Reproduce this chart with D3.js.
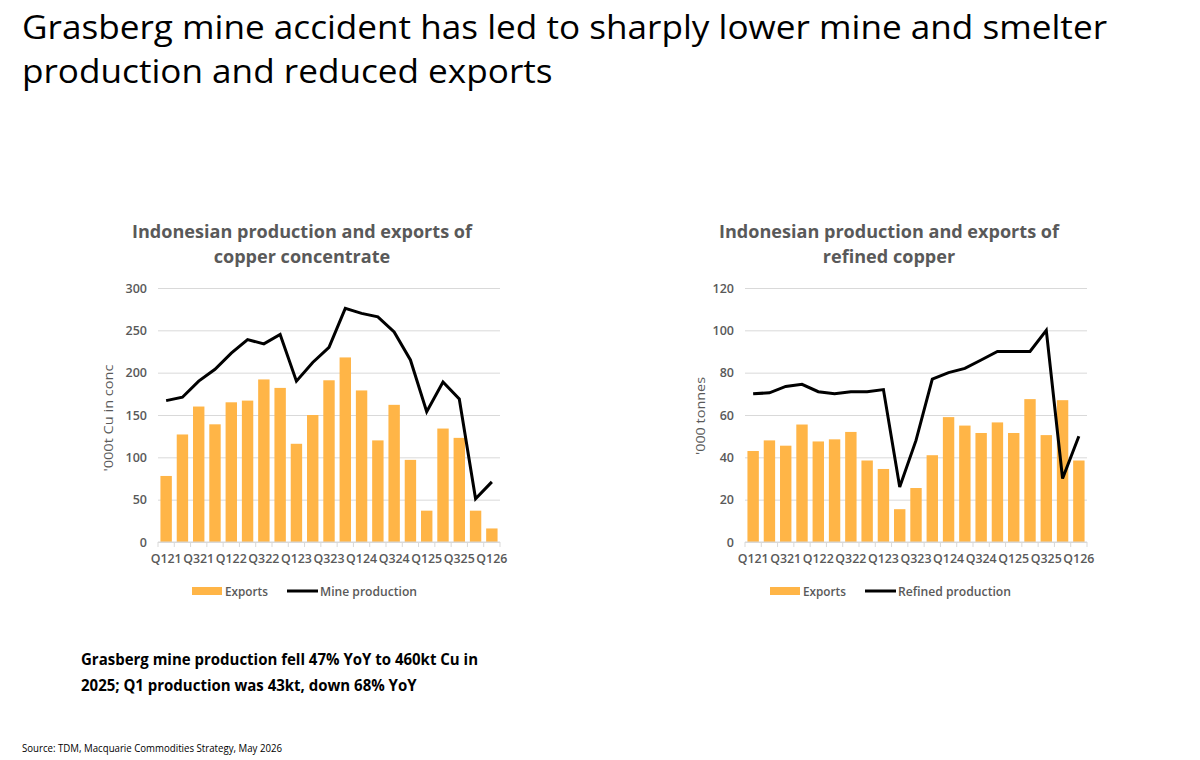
<!DOCTYPE html>
<html>
<head>
<meta charset="utf-8">
<script src="https://cdn.jsdelivr.net/npm/d3@7"></script>
<style>
  body { margin: 0; background: #fff; }
  svg { display: block; font-family: "Open Sans", "Noto Sans", sans-serif; }
</style>
</head>
<body>
<svg id="chart" width="1200" height="760"></svg>
<script>
// quarters, 2021 Q1 to 2026 Q1
var quarters = ["Q121", "Q221", "Q321", "Q421", "Q122", "Q222", "Q322", "Q422",
  "Q123", "Q223", "Q323", "Q423", "Q124", "Q224", "Q324", "Q424",
  "Q125", "Q225", "Q325", "Q425", "Q126"];

// copper concentrate, '000t Cu in conc
var concExports = [78, 127, 160, 139, 165, 167, 192, 182, 116, 150, 191, 218,
  179, 120, 162, 97, 37, 134, 123, 37, 16];
var mineProduction = [167, 171, 190, 204, 223, 239, 234, 245, 190, 212, 230, 276,
  270, 266, 248, 215, 154, 189, 169, 51, 71];

// refined copper, '000 tonnes
var refinedExports = [43, 48, 45.5, 55.5, 47.5, 48.5, 52, 38.5, 34.5, 15.5, 25.5, 41,
  59, 55, 51.5, 56.5, 51.5, 67.5, 50.5, 67, 38.5];
var refinedProduction = [70, 70.5, 73.5, 74.5, 71, 70, 71, 71, 72, 26, 48, 77,
  80, 82, 86, 90, 90, 90, 100, 30, 50];

var concTicks = [0, 50, 100, 150, 200, 250, 300];
var refinedTicks = [0, 20, 40, 60, 80, 100, 120];

var barColor = "#FFB547";
var gray = "#595959";
var svg = d3.select("#chart");

// squeeze a text to a target width (Calibri is narrower than what we have)
function fit(text, width) {
  var w = text.node().getComputedTextLength();
  text.attr("textLength", width).attr("lengthAdjust", "spacingAndGlyphs");
  return width / w;
}
function squeeze(text, ratio) {
  var w = text.node().getComputedTextLength();
  text.attr("textLength", w * ratio).attr("lengthAdjust", "spacingAndGlyphs");
}

// page title
var t1 = svg.append("text").attr("x", 22).attr("y", 39)
  .attr("font-size", 33).attr("fill", "#000")
  .text("Grasberg mine accident has led to sharply lower mine and smelter");
var r = fit(t1, 1085);
var t2 = svg.append("text").attr("x", 22).attr("y", 83)
  .attr("font-size", 33).attr("fill", "#000")
  .text("production and reduced exports");
squeeze(t2, r);

var f1 = svg.append("text").attr("x", 81).attr("y", 665)
  .attr("font-size", 16).attr("font-weight", 700).attr("fill", "#000")
  .text("Grasberg mine production fell 47% YoY to 460kt Cu in");
r = fit(f1, 397);
var f2 = svg.append("text").attr("x", 81).attr("y", 691)
  .attr("font-size", 16).attr("font-weight", 700).attr("fill", "#000")
  .text("2025; Q1 production was 43kt, down 68% YoY");
squeeze(f2, r);

var src = svg.append("text").attr("x", 22).attr("y", 752)
  .attr("font-size", 10).attr("fill", "#000")
  .text("Source: TDM, Macquarie Commodities Strategy, May 2026");
fit(src, 260);

function drawChart(cfg) {
  var g = svg.append("g");

  var x = d3.scaleBand()
    .domain(quarters)
    .range([cfg.left, cfg.right])
    .paddingInner(0.3)
    .paddingOuter(0.15);

  var y = d3.scaleLinear()
    .domain([0, cfg.ticks[cfg.ticks.length - 1]])
    .range([cfg.bottom, cfg.top]);

  // titles
  var tt = g.append("text").attr("x", cfg.titleX).attr("y", cfg.top - 50)
    .attr("text-anchor", "middle").attr("font-size", 17.5).attr("font-weight", 700)
    .attr("fill", gray).text(cfg.title[0]);
  var tr = fit(tt, 340);
  var tt2 = g.append("text").attr("x", cfg.titleX).attr("y", cfg.top - 25)
    .attr("text-anchor", "middle").attr("font-size", 17.5)
    .attr("font-weight", 700).attr("fill", gray).text(cfg.title[1]);
  squeeze(tt2, tr);

  // gridlines and y labels
  var yAxis = d3.axisLeft(y).tickValues(cfg.ticks)
    .tickSize(-(cfg.right - cfg.left)).tickPadding(11);
  var ya = g.append("g").attr("transform", "translate(" + cfg.left + ",0)").call(yAxis);
  ya.select(".domain").remove();
  ya.selectAll(".tick line").attr("stroke", "#D9D9D9");
  ya.selectAll(".tick text").attr("fill", gray).attr("font-size", 12.5)
    .attr("font-weight", 600).attr("font-family", "Open Sans, sans-serif");

  // y axis title
  var yt = g.append("text")
    .attr("transform", "translate(" + cfg.yTitleX + "," + cfg.yTitleY + ") rotate(-90)")
    .attr("text-anchor", "middle").attr("font-size", 13.5).attr("fill", gray)
    .text(cfg.yTitle);
  fit(yt, cfg.yTitleLen);

  // bars
  g.selectAll(".bar")
    .data(cfg.bars)
    .join("rect")
    .attr("class", "bar")
    .attr("x", function (d, i) { return x(quarters[i]); })
    .attr("width", x.bandwidth())
    .attr("y", function (d) { return y(d); })
    .attr("height", function (d) { return y(0) - y(d); })
    .attr("fill", barColor);

  // x axis: baseline, boundary ticks, every other label
  g.append("line")
    .attr("x1", cfg.left).attr("x2", cfg.right)
    .attr("y1", y(0)).attr("y2", y(0))
    .attr("stroke", "#D9D9D9");
  var step = x.step();
  g.selectAll(".xtick")
    .data(d3.range(quarters.length + 1))
    .join("line")
    .attr("x1", function (i) { return cfg.left + i * step; })
    .attr("x2", function (i) { return cfg.left + i * step; })
    .attr("y1", y(0)).attr("y2", y(0) + 5)
    .attr("stroke", "#D9D9D9");
  g.selectAll(".xlab")
    .data(quarters.filter(function (q, i) { return i % 2 === 0; }))
    .join("text")
    .attr("x", function (q) { return x(q) + x.bandwidth() / 2; })
    .attr("y", y(0) + 21)
    .attr("text-anchor", "middle")
    .attr("font-size", 13).attr("font-weight", 600).attr("fill", gray)
    .attr("textLength", 31).attr("lengthAdjust", "spacingAndGlyphs")
    .text(function (q) { return q; });

  // line
  var line = d3.line()
    .x(function (d, i) { return x(quarters[i]) + x.bandwidth() / 2; })
    .y(function (d) { return y(d); });
  g.append("path")
    .datum(cfg.line)
    .attr("d", line)
    .attr("fill", "none")
    .attr("stroke", "#000")
    .attr("stroke-width", 3)
    .attr("stroke-linejoin", "miter");

  // legend
  var ly = cfg.bottom + 49;
  g.append("rect").attr("x", cfg.legendX).attr("y", ly - 4).attr("width", 30).attr("height", 8)
    .attr("fill", barColor);
  var e = g.append("text").attr("x", cfg.legendX + 33).attr("y", ly + 4.5)
    .attr("font-size", 13).attr("font-weight", 600).attr("fill", gray).text("Exports");
  fit(e, 43);
  g.append("line").attr("x1", cfg.legendX + 95).attr("x2", cfg.legendX + 126)
    .attr("y1", ly).attr("y2", ly).attr("stroke", "#000").attr("stroke-width", 3);
  var ln = g.append("text").attr("x", cfg.legendX + 128).attr("y", ly + 4.5)
    .attr("font-size", 13).attr("font-weight", 600).attr("fill", gray).text(cfg.lineName);
  fit(ln, cfg.lineNameLen);
}

drawChart({
  left: 158, right: 500, top: 288, bottom: 542,
  titleX: 302, title: ["Indonesian production and exports of", "copper concentrate"],
  ticks: concTicks, yTitle: "'000t Cu in conc", yTitleX: 113, yTitleY: 418, yTitleLen: 107,
  bars: concExports, line: mineProduction,
  legendX: 192, lineName: "Mine production", lineNameLen: 97
});

drawChart({
  left: 745, right: 1087, top: 288, bottom: 542,
  titleX: 889, title: ["Indonesian production and exports of", "refined copper"],
  ticks: refinedTicks, yTitle: "'000 tonnes", yTitleX: 705, yTitleY: 416, yTitleLen: 78,
  bars: refinedExports, line: refinedProduction,
  legendX: 770, lineName: "Refined production", lineNameLen: 113
});
</script>
</body>
</html>
